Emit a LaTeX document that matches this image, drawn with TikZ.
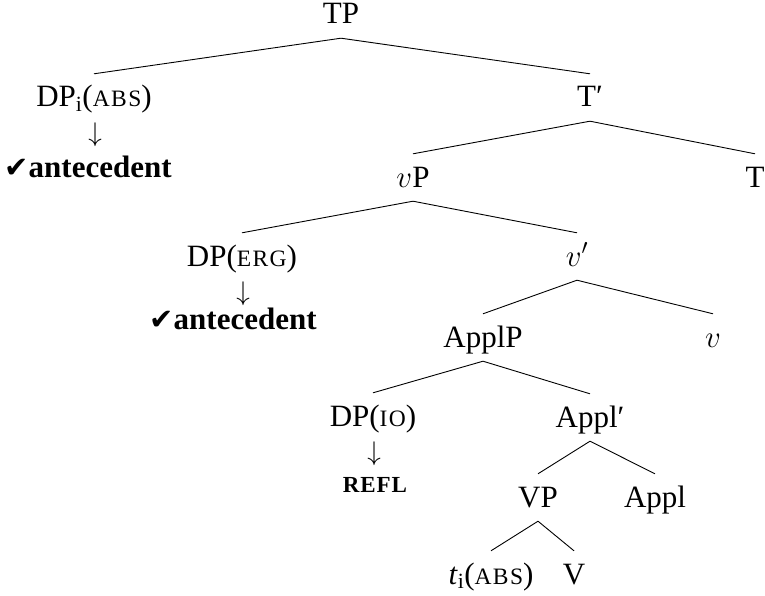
\RequirePackage{fix-cm}
\documentclass[tikz,border=0pt]{standalone}
\usepackage{fontspec}
\setmainfont{Liberation Serif}
\newfontfamily\symfont{DejaVu Sans}
\newcommand{\smc}[1]{{\fontsize{23.5}{28}\selectfont\addfontfeature{LetterSpace=6}#1}}
\newcommand{\chk}{{\symfont\fontsize{29}{32}\selectfont ✔}}
\newcommand{\subi}{\textsubscript{i}}
\begin{document}
\begin{tikzpicture}[x=1pt,y=-1pt,
  lab/.style={anchor=base, font=\fontsize{31}{36}\selectfont, inner sep=0pt},
  tn/.style={lab, text height=25pt, text depth=6pt, inner ysep=8pt, inner xsep=0pt},
  arr/.style={anchor=base, inner sep=0pt, font=\fontsize{27}{30}\selectfont},
  br/.style={line width=0.9pt}]
\useasboundingbox (0,0) rectangle (765,596);
% tree nodes
\node[tn] (TP) at (341,24) {TP};
\node[tn] (DPi) at (94,107) {DP\subi(\smc{ABS})};
\node[tn] (Tbar) at (590,107) {T′};
\node[tn] (vP) at (413,187) {$v$P};
\node[tn] (T) at (755,187) {T};
\node[tn] (DPerg) at (242,266) {DP(\smc{ERG})};
\node[tn] (vbar) at (577,266) {$v'$};
\node[tn] (ApplP) at (483,347) {ApplP};
\node[tn] (v) at (713,347) {$v$};
\node[tn] (DPio) at (373,426) {DP(\smc{IO})};
\node[tn] (Applbar) at (590,427) {Appl′};
\node[tn] (VP) at (538,507) {VP};
\node[tn] (Appl) at (655,507) {Appl};
\node[tn] (ti) at (491,584) {\textit{t}\subi(\smc{ABS})};
\node[tn] (V) at (574,584) {V};
% annotations
\node[arr] (a1) at (95,142) {$\downarrow$};
\node[lab] (ant1) at (88,178) {\chk\textbf{antecedent}};
\node[arr] (a2) at (243,300) {$\downarrow$};
\node[lab] (ant2) at (233,329) {\chk\textbf{antecedent}};
\node[arr] (a3) at (374,460) {$\downarrow$};
\node[lab] (refl) at (375,492) {\fontsize{23}{27}\selectfont\bfseries\addfontfeature{LetterSpace=4}REFL};
% branches
\draw[br] (TP.south) -- (DPi.north);
\draw[br] (TP.south) -- (Tbar.north);
\draw[br] (Tbar.south) -- (vP.north);
\draw[br] (Tbar.south) -- (T.north);
\draw[br] (vP.south) -- (DPerg.north);
\draw[br] (vP.south) -- (vbar.north);
\draw[br] (vbar.south) -- (ApplP.north);
\draw[br] (vbar.south) -- (v.north);
\draw[br] (ApplP.south) -- (DPio.north);
\draw[br] (ApplP.south) -- (Applbar.north);
\draw[br] (Applbar.south) -- (VP.north);
\draw[br] (Applbar.south) -- (Appl.north);
\draw[br] (VP.south) -- (ti.north);
\draw[br] (VP.south) -- (V.north);
\end{tikzpicture}
\end{document}
